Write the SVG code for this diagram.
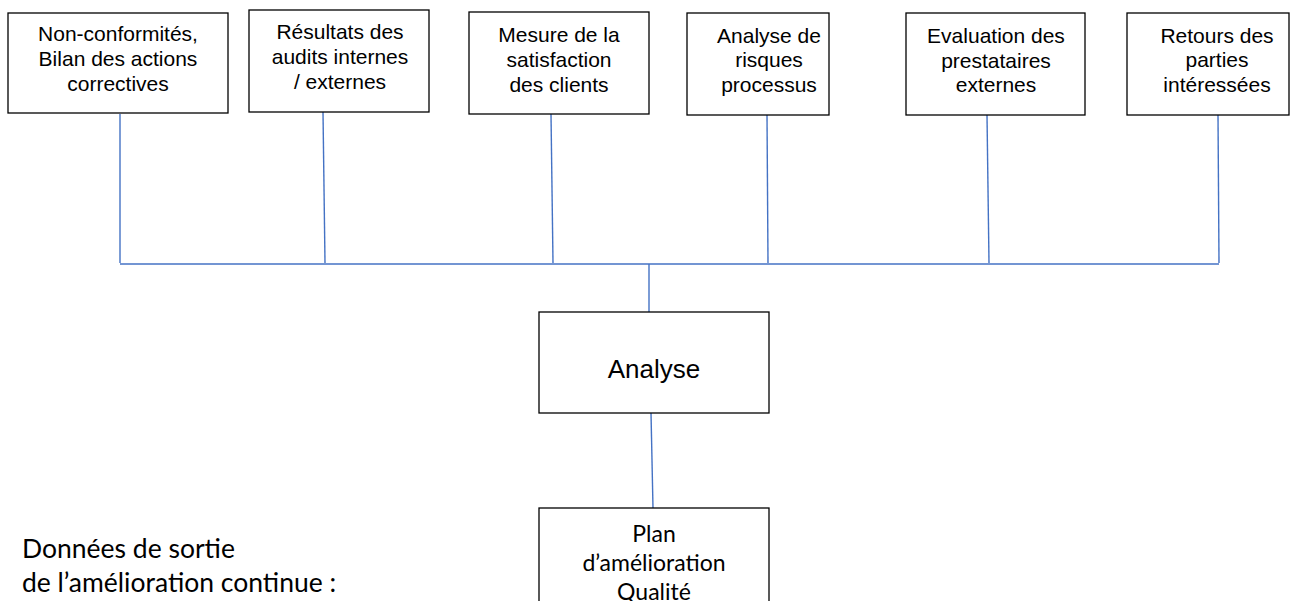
<svg xmlns="http://www.w3.org/2000/svg" width="1295" height="601" viewBox="0 0 1295 601">
  <style>
    .box { fill: #ffffff; stroke: #000000; stroke-width: 1.3; }
    .t { font-family: "Liberation Sans", Arial, sans-serif; font-size: 21px; fill: #000000; text-anchor: middle; }
    .big { font-family: "Liberation Sans", Arial, sans-serif; font-size: 26px; fill: #000000; text-anchor: middle; }
    .cal { font-family: Lato, "Open Sans", sans-serif; fill: #000000; }
    .conn { stroke: #4472C4; stroke-width: 1.4; fill: none; }
  </style>
  <rect width="1295" height="601" fill="#ffffff"/>
  <g id="connectors">
    <line class="conn" x1="120" y1="114" x2="120" y2="263"/>
    <line class="conn" x1="323" y1="112" x2="325" y2="263"/>
    <line class="conn" x1="551" y1="114" x2="553" y2="263"/>
    <line class="conn" x1="767" y1="115" x2="768" y2="263"/>
    <line class="conn" x1="987" y1="115" x2="989" y2="263"/>
    <line class="conn" x1="1218" y1="115" x2="1219" y2="263"/>
    <line class="conn" x1="120" y1="264" x2="1219" y2="264"/>
    <line class="conn" x1="649" y1="264" x2="649" y2="312"/>
    <line class="conn" x1="651" y1="413" x2="653" y2="508"/>
  </g>
  <g id="node-nonconformites">
    <rect class="box" x="8" y="13" width="220" height="100"/>
    <text class="t" x="118" y="41">Non-conformités,</text>
    <text class="t" x="118" y="66">Bilan des actions</text>
    <text class="t" x="118" y="91">correctives</text>
  </g>
  <g id="node-audits">
    <rect class="box" x="249" y="10" width="180" height="102"/>
    <text class="t" x="340" y="39">Résultats des</text>
    <text class="t" x="340" y="64">audits internes</text>
    <text class="t" x="340" y="89">/ externes</text>
  </g>
  <g id="node-satisfaction">
    <rect class="box" x="469" y="12" width="180" height="102"/>
    <text class="t" x="559" y="42">Mesure de la</text>
    <text class="t" x="559" y="67">satisfaction</text>
    <text class="t" x="559" y="92">des clients</text>
  </g>
  <g id="node-risques">
    <rect class="box" x="687" y="13" width="142" height="102"/>
    <text class="t" x="769" y="43">Analyse de</text>
    <text class="t" x="769" y="67">risques</text>
    <text class="t" x="769" y="92">processus</text>
  </g>
  <g id="node-prestataires">
    <rect class="box" x="906" y="13" width="179" height="102"/>
    <text class="t" x="996" y="43">Evaluation des</text>
    <text class="t" x="996" y="68">prestataires</text>
    <text class="t" x="996" y="92">externes</text>
  </g>
  <g id="node-parties">
    <rect class="box" x="1127" y="13" width="162" height="102"/>
    <text class="t" x="1217" y="43">Retours des</text>
    <text class="t" x="1217" y="67">parties</text>
    <text class="t" x="1217" y="92">intéressées</text>
  </g>
  <g id="node-analyse">
    <rect class="box" x="539" y="312" width="230" height="101"/>
    <text class="big" x="654" y="378">Analyse</text>
  </g>
  <g id="node-plan">
    <rect class="box" x="539" y="508" width="230" height="110"/>
    <text class="cal" font-size="23" text-anchor="middle" x="654" y="542">Plan</text>
    <text class="cal" font-size="23" text-anchor="middle" x="654" y="571">d’amélioration</text>
    <text class="cal" font-size="23" text-anchor="middle" x="654" y="600">Qualité</text>
  </g>
  <g id="label-sortie">
    <text class="cal" font-size="26.5" x="22" y="558">Données de sortie</text>
    <text class="cal" font-size="26.5" x="22" y="592">de l’amélioration continue :</text>
  </g>
</svg>
